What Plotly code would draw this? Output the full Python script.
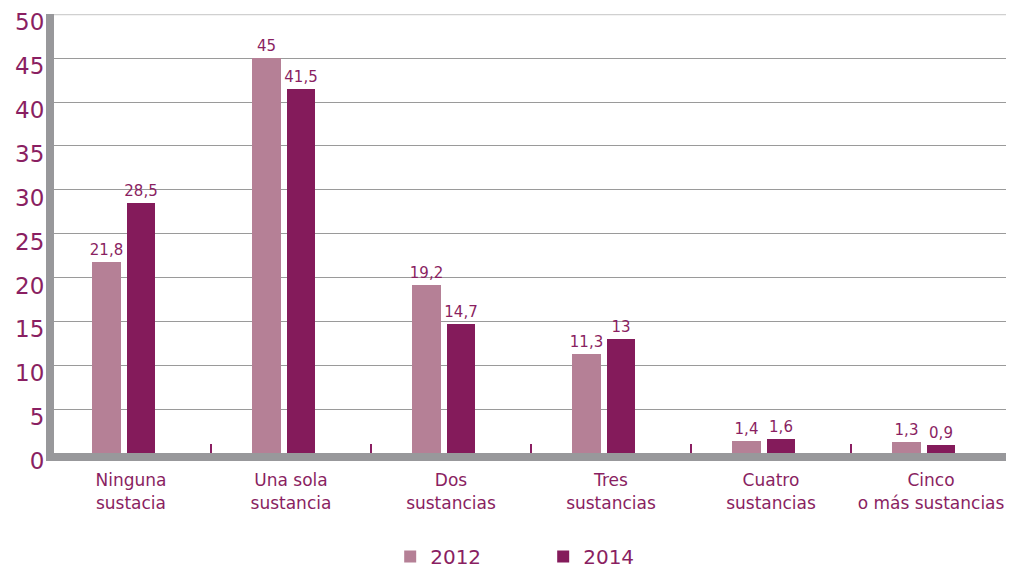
import plotly.graph_objects as go

# --------------------
# Data
# --------------------
categories = ["Ninguna<br>sustacia", "Una sola<br>sustancia", "Dos<br>sustancias",
              "Tres<br>sustancias", "Cuatro<br>sustancias", "Cinco<br>o más sustancias"]
vals_2012 = [21.8, 45, 19.2, 11.3, 1.4, 1.3]
vals_2014 = [28.5, 41.5, 14.7, 13, 1.6, 0.9]
y_ticks = [0, 5, 10, 15, 20, 25, 30, 35, 40, 45, 50]

purple = "#8a1f62"
col_2012 = "#b58096"
col_2014 = "#841b5b"
gray = "#98989b"
font_family = "'DejaVu Sans', sans-serif"


def fmt(v):
    return f"{v:g}".replace(".", ",")


fig = go.Figure()
fig.add_trace(go.Bar(
    x=categories, y=vals_2012, name="2012",
    marker=dict(color=col_2012, line=dict(width=0)),
    width=0.18, offset=-0.245,
    text=[fmt(v) for v in vals_2012], textposition="outside", constraintext="none",
    textfont=dict(color=purple, size=15, family=font_family),
    cliponaxis=False,
))
fig.add_trace(go.Bar(
    x=categories, y=vals_2014, name="2014",
    marker=dict(color=col_2014, line=dict(width=0)),
    width=0.18, offset=-0.027,
    text=[fmt(v) for v in vals_2014], textposition="outside", constraintext="none",
    textfont=dict(color=purple, size=15, family=font_family),
    cliponaxis=False,
))

# light top border at 50
fig.add_shape(type="line", xref="paper", yref="y", x0=0, x1=1, y0=50, y1=50,
              line=dict(color="#d0d0d0", width=2))

# page body has an 8px margin, so the figure is sized to fit inside it
fig.update_layout(
    width=1006, height=562,
    margin=dict(l=46, r=3, t=6, b=117, autoexpand=False),
    paper_bgcolor="white", plot_bgcolor="white",
    font=dict(family=font_family, color=purple),
    showlegend=True,
    legend=dict(orientation="h", xref="container", x=0.532, xanchor="center",
                yref="paper", y=-0.236, yanchor="middle",
                font=dict(size=20, color=purple),
                traceorder="normal", entrywidth=108, entrywidthmode="pixels"),
    xaxis=dict(
        range=[-0.481, 5.5], automargin=False, tickangle=0,
        showline=True, linecolor=gray, linewidth=8,
        tickson="boundaries", ticks="inside", ticklen=9, tickwidth=2,
        tickcolor=purple, tickfont=dict(size=17, color=purple),
        ticklabelstandoff=5, showgrid=False,
    ),
    yaxis=dict(
        range=[0, 50.03], tickvals=y_ticks, automargin=False,
        showline=True, linecolor=gray, linewidth=8,
        showgrid=True, gridcolor="#9a9a9a", gridwidth=1,
        tickfont=dict(size=23, color=purple), ticks="", ticklabelstandoff=-3,
        ticklabelshift=8, zeroline=False,
    ),
    bargap=0,
)

fig.write_html("out.html")
